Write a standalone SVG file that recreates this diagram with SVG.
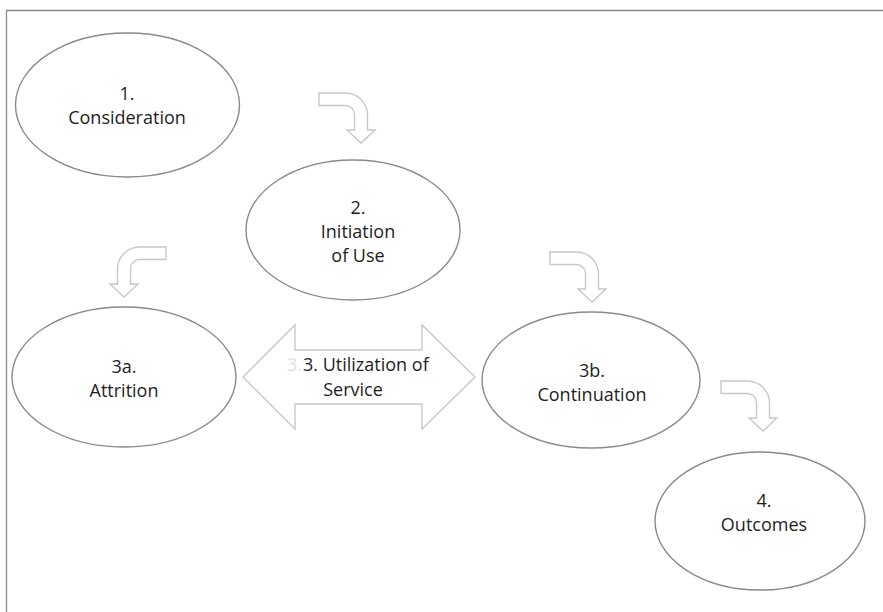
<svg xmlns="http://www.w3.org/2000/svg" width="883" height="612" viewBox="0 0 883 612">
<defs>
<style>
.node ellipse{fill:#ffffff;stroke:#8a8a8a;stroke-width:1.4}
.lbl{font-family:"Open Sans","Liberation Sans",sans-serif;font-size:18px;fill:#1e1e1e;text-anchor:middle}
.conn path{fill:#ffffff;stroke:#c8c8c8;stroke-width:1.4;stroke-linejoin:miter}
.frame{stroke:#8a8a8a;stroke-width:1.3;fill:none}
</style>
<path id="bent" d="M-42,-50 H-15.5 A22,22 0 0 1 6.5,-28 V-13 H14 L0,0 L-14,-13 H-6.5 V-29 A9,9 0 0 0 -15.5,-37.5 H-42 Z"/>
</defs>
<rect width="883" height="612" fill="#ffffff"/>
<path class="frame" d="M6.5,612 V10.5 H883"/>
<g id="connectors" class="conn">
<use href="#bent" transform="translate(361,143)" fill="#ffffff" stroke="#c8c8c8" stroke-width="1.4"/>
<use href="#bent" transform="translate(124,297) scale(-1,1)" fill="#ffffff" stroke="#c8c8c8" stroke-width="1.4"/>
<use href="#bent" transform="translate(592,302)" fill="#ffffff" stroke="#c8c8c8" stroke-width="1.4"/>
<use href="#bent" transform="translate(763,431)" fill="#ffffff" stroke="#c8c8c8" stroke-width="1.4"/>
<g id="utilization">
<path d="M243,377 L295,325 V350 H422 V325 L475,377 L422,429 V404 H295 V429 Z"/>
<text class="lbl" x="287" y="371" style="text-anchor:start;fill:#e2e2e2">3.</text>
<text class="lbl" x="303" y="371" style="text-anchor:start">3. Utilization of</text>
<text class="lbl" x="353" y="396">Service</text>
</g>
</g>
<g id="n1" class="node">
<ellipse cx="127.5" cy="105" rx="112" ry="72"/>
<text class="lbl" x="127" y="100">1.</text>
<text class="lbl" x="127" y="124">Consideration</text>
</g>
<g id="n2" class="node">
<ellipse cx="353" cy="230" rx="107" ry="70"/>
<text class="lbl" x="358" y="214">2.</text>
<text class="lbl" x="358" y="238">Initiation</text>
<text class="lbl" x="358" y="262">of Use</text>
</g>
<g id="n3a" class="node">
<ellipse cx="124" cy="377" rx="112" ry="70"/>
<text class="lbl" x="124" y="373">3a.</text>
<text class="lbl" x="124" y="397">Attrition</text>
</g>
<g id="n3b" class="node">
<ellipse cx="591" cy="380" rx="109" ry="68"/>
<text class="lbl" x="592" y="377">3b.</text>
<text class="lbl" x="592" y="401">Continuation</text>
</g>
<g id="n4" class="node">
<ellipse cx="760" cy="521" rx="105" ry="69"/>
<text class="lbl" x="764" y="507">4.</text>
<text class="lbl" x="764" y="531">Outcomes</text>
</g>
</svg>
